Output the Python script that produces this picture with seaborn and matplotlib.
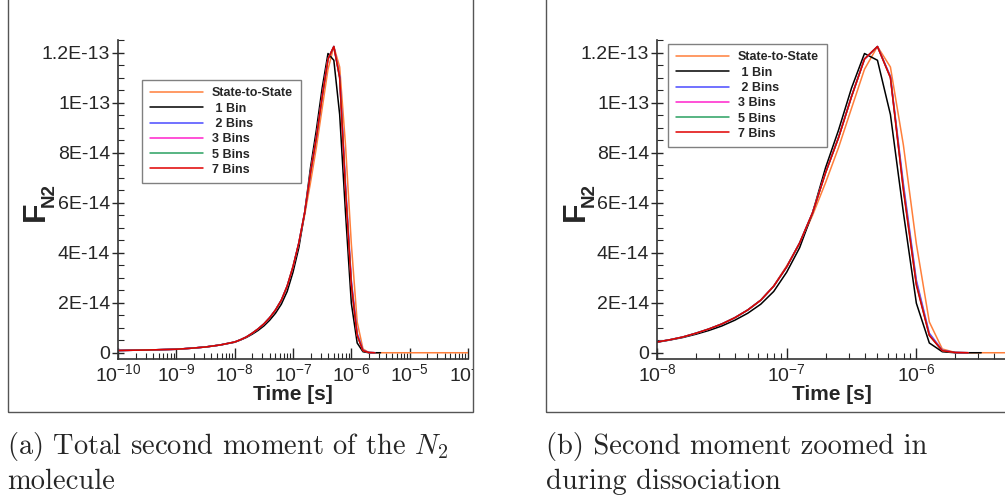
import numpy as np
import pandas as pd
import matplotlib
matplotlib.use("Agg")
import matplotlib.pyplot as plt
import seaborn as sns
from matplotlib.patches import Rectangle
from matplotlib.ticker import FixedLocator, FixedFormatter, LogLocator, MultipleLocator, NullFormatter
from matplotlib.transforms import Bbox, TransformedBbox

# log10 of time [s]
log_time = [-10, -9.5, -9, -8.75, -8.5, -8.25, -8, -7.9, -7.8, -7.7, -7.6, -7.5, -7.4, -7.3, -7.2, -7.1,
            -7.0, -6.9, -6.8, -6.7, -6.6, -6.5, -6.4, -6.3, -6.2, -6.1, -6.0, -5.9, -5.8, -5.7, -5.6,
            -5.5, -5.0, -4.5, -4.0]

nan = np.nan
# F_N2 in units of 1e-14
sts = [0.09, 0.11, 0.14, 0.18, 0.23, 0.31, 0.43,
       0.52, 0.63, 0.78, 0.95, 1.15, 1.40, 1.71, 2.10, 2.67, 3.47,
       4.35, 5.5, 6.8, 8.2, 9.77, 11.33, 12.24, 11.42, 8.3, 4.35,
       1.23, 0.15, 0.01, 0, 0, 0, 0, 0]
bin1 = [0.09, 0.11, 0.14, 0.18, 0.23, 0.31, 0.42,
        0.51, 0.61, 0.74, 0.89, 1.07, 1.30, 1.58, 1.94, 2.45, 3.22,
        4.2, 5.6, 7.4, 8.9, 10.58, 11.96, 11.69, 9.52, 5.6, 1.98,
        0.39, 0.04, 0, 0, 0, nan, nan, nan]
bin2 = [0.09, 0.11, 0.14, 0.18, 0.23, 0.31, 0.43,
        0.52, 0.63, 0.78, 0.95, 1.15, 1.40, 1.71, 2.10, 2.66, 3.43,
        4.39, 5.6, 7.2, 8.6, 10.24, 11.74, 12.24, 11.05, 6.75, 2.9,
        0.78, 0.10, 0.01, 0, nan, nan, nan, nan]
bin3 = [0.09, 0.11, 0.14, 0.18, 0.23, 0.31, 0.43,
        0.52, 0.63, 0.78, 0.95, 1.15, 1.40, 1.71, 2.10, 2.66, 3.43,
        4.39, 5.6, 7.2, 8.6, 10.24, 11.74, 12.24, 11.02, 6.6, 2.8,
        0.72, 0.09, 0.01, 0, nan, nan, nan, nan]
bin5 = [0.09, 0.11, 0.14, 0.18, 0.23, 0.31, 0.43,
        0.52, 0.63, 0.78, 0.95, 1.15, 1.40, 1.71, 2.10, 2.66, 3.43,
        4.39, 5.6, 7.2, 8.6, 10.24, 11.74, 12.24, 11.0, 6.55, 2.75,
        0.70, 0.08, 0.01, 0, nan, nan, nan, nan]
bin7 = [0.09, 0.11, 0.14, 0.18, 0.23, 0.31, 0.43,
        0.52, 0.63, 0.78, 0.95, 1.15, 1.40, 1.71, 2.10, 2.66, 3.43,
        4.39, 5.6, 7.2, 8.6, 10.24, 11.74, 12.24, 10.99, 6.5, 2.7,
        0.69, 0.08, 0.01, 0, nan, nan, nan, nan]

labels = ["State-to-State", " 1 Bin", " 2 Bins", "3 Bins", "5 Bins", "7 Bins"]
colors = ["#ff7f3a", "#000000", "#4a4aff", "#ff22cc", "#2aa060", "#e00000"]

yticks = [0, 2e-14, 4e-14, 6e-14, 8e-14, 1e-13, 1.2e-13]
ytick_labels = ["0", "2E-14", "4E-14", "6E-14", "8E-14", "1E-13", "1.2E-13"]

series = [sts, bin1, bin2, bin3, bin5, bin7]
df = pd.concat([pd.DataFrame({"Time": 10.0 ** np.array(log_time),
                              "F": np.array(vals) * 1e-14,
                              "Series": lab})
                for lab, vals in zip(labels, series)], ignore_index=True).dropna()

sns.set_style("ticks")
plt.rcParams["font.family"] = ["Liberation Sans", "DejaVu Sans"]
plt.rcParams["mathtext.fontset"] = "custom"
plt.rcParams["mathtext.rm"] = "Liberation Sans"
plt.rcParams["mathtext.it"] = "Liberation Sans:italic"
plt.rcParams["mathtext.bf"] = "Liberation Sans:bold"

W, H = 1005, 500
fig = plt.figure(figsize=(10.05, 5), dpi=100)

ax1 = fig.add_axes([118 / W, 1 - 359 / H, 350 / W, 319 / H])
ax2 = fig.add_axes([657 / W, 1 - 359 / H, 350 / W, 319 / H])

legend_pos = {ax1: (142, 80), ax2: (668, 44)}
for ax, xlim in ((ax1, (1e-10, 1e-4)), (ax2, (1e-8, 5e-6))):
    ax.set_xscale("log")
    sns.lineplot(data=df, x="Time", y="F", hue="Series", hue_order=labels,
                 palette=dict(zip(labels, colors)), estimator=None, sort=False,
                 linewidth=1.1, ax=ax)
    ax.set_xlim(*xlim)
    ax.set_ylim(-2.5e-15, 1.25e-13)
    ax.xaxis.set_major_locator(LogLocator(base=10, numticks=20))
    ax.xaxis.set_minor_locator(LogLocator(base=10, subs=np.arange(2, 10), numticks=20))
    ax.xaxis.set_minor_formatter(NullFormatter())
    ax.yaxis.set_major_locator(FixedLocator(yticks))
    ax.yaxis.set_major_formatter(FixedFormatter(ytick_labels))
    ax.yaxis.set_minor_locator(MultipleLocator(5e-15))
    ax.tick_params(axis="y", which="major", direction="inout", length=9, width=1, labelsize=14, pad=1)
    ax.tick_params(axis="y", which="minor", direction="in", length=4, width=0.8)
    ax.tick_params(axis="x", which="major", direction="in", length=8, width=1, labelsize=14, pad=3)
    ax.tick_params(axis="x", which="minor", direction="in", length=4, width=0.8)
    for s in ("top", "right"):
        ax.spines[s].set_visible(False)
    for s in ("left", "bottom"):
        ax.spines[s].set_linewidth(1.2)
        ax.spines[s].set_color("#333333")
    ax.set_ylabel("")
    ax.set_xlabel("Time [s]", fontsize=15, fontweight="bold", labelpad=0)

    handles, labs = ax.get_legend_handles_labels()
    lx, ly = legend_pos[ax]
    leg = ax.legend(handles, labs, loc="upper left", bbox_to_anchor=(lx / W, 1 - ly / H),
                    bbox_transform=fig.transFigure, borderaxespad=0,
                    prop={"weight": "bold", "size": 9}, handlelength=4.3, handletextpad=0.7,
                    borderpad=0.6, labelspacing=0.26, fancybox=False, framealpha=1,
                    edgecolor="#808080")
    leg.get_frame().set_linewidth(1.0)
    for line in leg.get_lines():
        line.set_linewidth(1.1)

# y labels F_N2
for off in (0, 540):
    fig.text((36 + off) / W, 1 - 211 / H, "F", rotation=90, fontsize=23, fontweight="bold",
             ha="center", va="center")
    fig.text((49 + off) / W, 1 - 195 / H, "N2", rotation=90, fontsize=13.5, fontweight="bold",
             ha="center", va="center")

# panel frames
fig.add_artist(Rectangle((8 / W, 88 / H), 465 / W, 1.0, transform=fig.transFigure,
                         fill=False, edgecolor="#555555", linewidth=1))
fig.add_artist(Rectangle((546 / W, 88 / H), 1.0, 1.0, transform=fig.transFigure,
                         fill=False, edgecolor="#555555", linewidth=1))

# captions
cap = dict(family="cmr10", math_fontfamily="cm", fontsize=20.5, va="baseline", ha="left")
fig.text(7 / W, 1 - 454 / H, "(a) Total second moment of the $N_2$", **cap)
fig.text(7 / W, 1 - 489 / H, "molecule", **cap)
fig.text(546 / W, 1 - 454 / H, "(b) Second moment zoomed in", **cap)
fig.text(546 / W, 1 - 489 / H, "during dissociation", **cap)

# clip the left panel tick labels at the frame edge
fig.canvas.draw()
clip = TransformedBbox(Bbox([[0, 0], [473 / W, 1]]), fig.transFigure)
for tick in ax1.xaxis.get_major_ticks():
    tick.label1.set_clip_box(clip)
    tick.label1.set_clip_on(True)

fig.savefig("out.png", dpi=100)
